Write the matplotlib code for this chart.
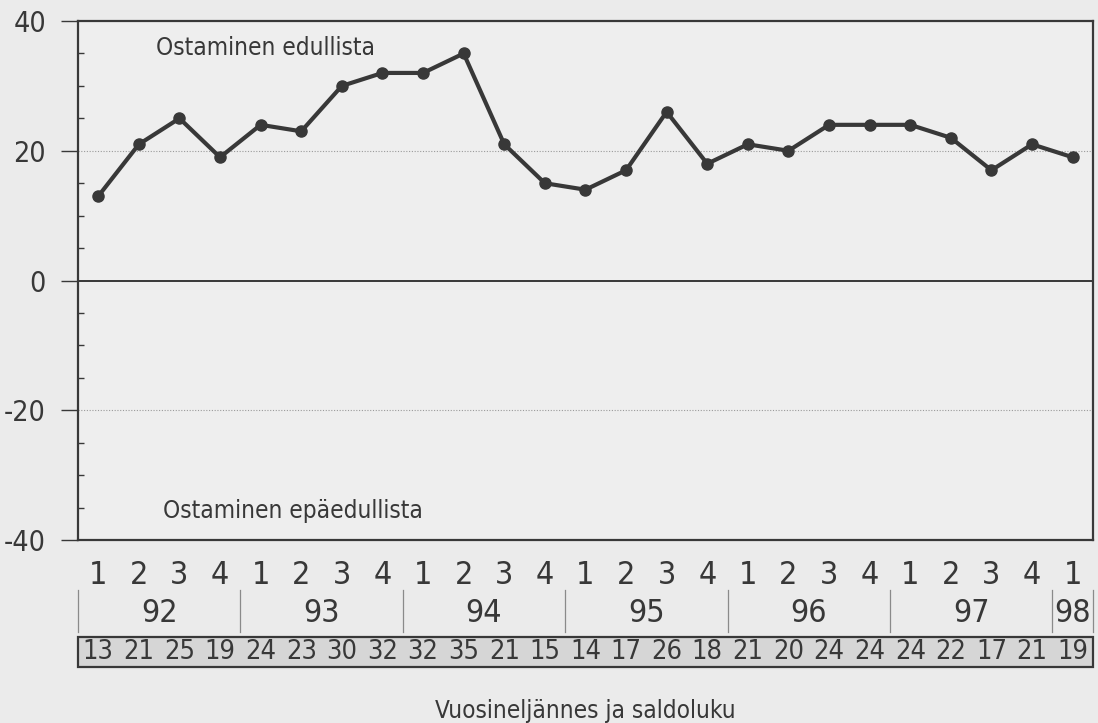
import matplotlib
matplotlib.use("Agg")
import matplotlib.pyplot as plt
from matplotlib import font_manager
from matplotlib.patches import Rectangle
from matplotlib.transforms import blended_transform_factory
from matplotlib.ticker import MultipleLocator

# narrow sans if we have one
names = {f.name for f in font_manager.fontManager.ttflist}
if "Liberation Sans Narrow" in names:
    plt.rcParams["font.family"] = "Liberation Sans Narrow"
else:
    plt.rcParams["font.family"] = "DejaVu Sans"
    plt.rcParams["font.stretch"] = "condensed"
plt.rcParams["axes.unicode_minus"] = False

quarters = ["1", "2", "3", "4"] * 6 + ["1"]
years = ["92", "93", "94", "95", "96", "97", "98"]
saldo = [13, 21, 25, 19, 24, 23, 30, 32, 32, 35, 21, 15, 14, 17, 26, 18,
         21, 20, 24, 24, 24, 22, 17, 21, 19]

bg = "#ebebeb"
ink = "#383838"

fig = plt.figure(figsize=(10.98, 7.23), dpi=100, facecolor=bg)
ax = fig.add_axes([0.071, 0.2531, 0.9244, 0.7178])
ax.set_facecolor("#eeeeee")

x = list(range(len(saldo)))
ax.plot(x, saldo, color=ink, lw=3, marker="o", ms=8, zorder=3)

ax.set_xlim(-0.5, len(saldo) - 0.5)
ax.set_ylim(-40, 40)
ax.set_yticks([40, 20, 0, -20, -40])
ax.yaxis.set_minor_locator(MultipleLocator(5))
ax.tick_params(axis="y", which="major", direction="out", length=12, width=1,
               color=ink, labelsize=20.5, labelcolor=ink, pad=11)
ax.tick_params(axis="y", which="minor", direction="in", length=4, width=1, color=ink)
ax.set_xticks([])
for lab in ax.get_yticklabels():
    lab.set_fontweight("medium")
for s in ax.spines.values():
    s.set_color(ink)
    s.set_linewidth(1.6)

# reference lines
ax.axhline(0, color=ink, lw=1.4, zorder=2)
for yv in (20, -20):
    ax.axhline(yv, color="#9a9a9a", lw=0.8, ls=(0, (1, 1.5)), zorder=1)

ax.text(1.43, 35.8, "Ostaminen edullista", fontsize=17.5, color=ink, va="center")
ax.text(1.6, -35.6, "Ostaminen epäedullista", fontsize=17.5, color=ink, va="center")

# quarter / year / value rows under the plot
tr = blended_transform_factory(ax.transData, fig.transFigure)
for i, q in enumerate(quarters):
    fig.text(i, 0.2047, q, transform=tr, ha="center", va="center", fontsize=23, color=ink)

year_mid = [1.5, 5.5, 9.5, 13.5, 17.5, 21.5, 24.0]
for y, m in zip(years, year_mid):
    fig.text(m, 0.152, y, transform=tr, ha="center", va="center", fontsize=23, color=ink)
for sep in [-0.5, 3.5, 7.5, 11.5, 15.5, 19.5, 23.5, 24.5]:
    fig.add_artist(plt.Line2D([sep, sep], [0.126, 0.184], transform=tr,
                              color="#8a8a8a", lw=0.9))

fig.add_artist(Rectangle((-0.5, 0.0775), len(saldo), 0.0415, transform=tr,
                         facecolor="#d6d6d6", edgecolor=ink, lw=1.6))
for i, v in enumerate(saldo):
    fig.text(i, 0.098, str(v), transform=tr, ha="center", va="center", fontsize=19.5, color=ink)

fig.text(0.533, 0.016, "Vuosineljännes ja saldoluku", ha="center", va="center",
         fontsize=17.5, color=ink)

fig.savefig("out.png", dpi=100, facecolor=bg)
